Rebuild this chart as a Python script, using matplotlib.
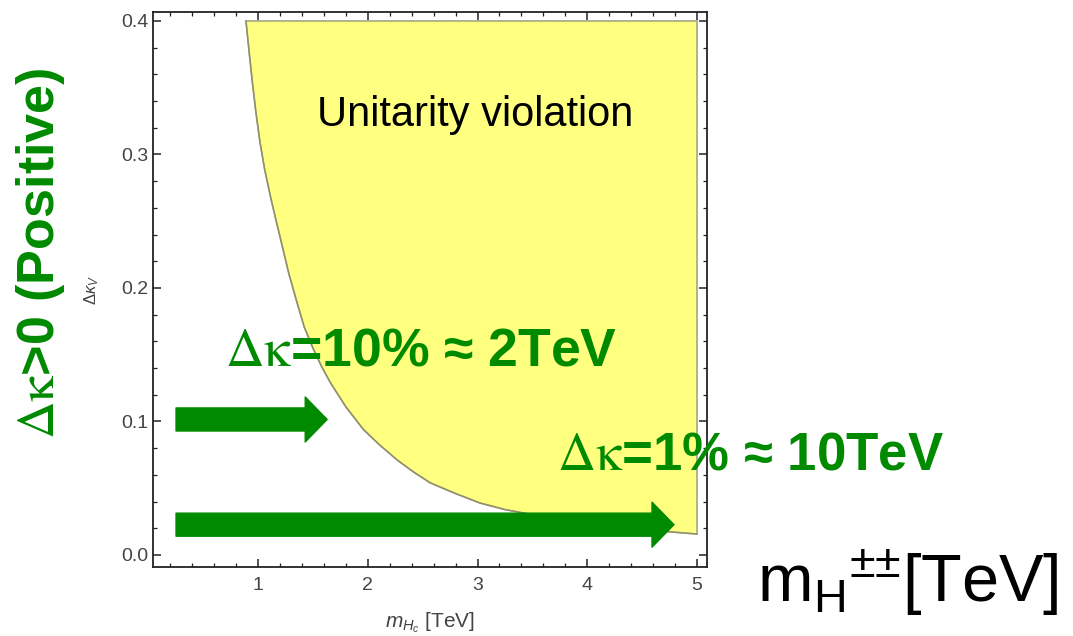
import matplotlib
matplotlib.use("Agg")
import matplotlib.pyplot as plt
from matplotlib.patches import ArrowStyle

plt.rcParams['mathtext.fontset'] = 'custom'
plt.rcParams['mathtext.rm'] = 'Liberation Sans'
plt.rcParams['mathtext.it'] = 'Liberation Sans:italic'
plt.rcParams['mathtext.bf'] = 'Liberation Sans:bold'

# ---- data ----
boundary_m = [0.89, 0.915, 0.943, 0.98, 1.018, 1.06, 1.109, 1.16, 1.216, 1.28,
              1.352, 1.42, 1.50, 1.58, 1.66, 1.80, 1.96, 2.10, 2.27, 2.42,
              2.57, 2.80, 3.02, 3.25, 3.45, 3.75, 4.0, 4.5, 5.0]
boundary_dk = [0.400, 0.380, 0.358, 0.332, 0.309, 0.289, 0.270, 0.252, 0.233, 0.211,
               0.190, 0.171, 0.155, 0.141, 0.129, 0.111, 0.094, 0.083, 0.071, 0.062,
               0.054, 0.046, 0.039, 0.034, 0.031, 0.027, 0.024, 0.019, 0.0157]
region_top = 0.4
region_right = 5.0

arrow_start_m = [0.253, 0.253]
arrow_end_m = [1.63, 4.79]
arrow_dk = [0.1015, 0.0227]

xticks = [1, 2, 3, 4, 5]
yticks = [0.0, 0.1, 0.2, 0.3, 0.4]

GREEN = '#008a00'
W, H = 1073, 636

fig = plt.figure(figsize=(W / 100, H / 100), dpi=100)
ax = fig.add_axes([153 / W, 1 - 567 / H, (707 - 153) / W, (567 - 12) / H])

# unitarity violation region
poly_x = list(boundary_m) + [region_right]
poly_y = list(boundary_dk) + [region_top]
ax.fill(poly_x, poly_y, facecolor='#ffff80', edgecolor='#a5a585', lw=1.2, zorder=1)
ax.plot(boundary_m, boundary_dk, color='#8f8f6a', lw=1.0, zorder=2)

ax.set_xlim(0.043, 5.091)
ax.set_ylim(-0.009, 0.4067)
ax.set_xticks(xticks)
ax.set_xticklabels([str(v) for v in xticks])
ax.set_yticks(yticks)
ax.set_yticklabels([f"{v:.1f}" for v in yticks])
ax.set_xticks([v / 5 for v in range(1, 26)], minor=True)
ax.set_yticks([v / 50 for v in range(0, 21)], minor=True)
ax.tick_params(which='both', direction='in', top=True, right=True, color='#222222')
ax.tick_params(which='major', length=6, width=1.1)
ax.tick_params(which='minor', length=3, width=0.9)
ax.tick_params(axis='x', which='major', pad=7, labelsize=14, labelcolor='#444444')
ax.tick_params(axis='y', which='major', pad=3.5, labelsize=14, labelcolor='#444444')
for lab in ax.get_xticklabels() + ax.get_yticklabels():
    lab.set_family('Liberation Sans')
for sp in ax.spines.values():
    sp.set_color('#222222')
    sp.set_linewidth(1.3)

ax.set_xlabel(r'$m_{H_c}$ [TeV]', fontsize=15, color='#444444', family='Liberation Sans',
              labelpad=12)
ax.set_ylabel(r'$\Delta\kappa_V$', fontsize=12, color='#444444', family='Liberation Sans',
              labelpad=14)

# arrows
for xs, xe, yv in zip(arrow_start_m, arrow_end_m, arrow_dk):
    ax.annotate('', xy=(xe, yv), xytext=(xs, yv),
                arrowprops=dict(arrowstyle=ArrowStyle.Simple(head_length=15.8, head_width=32.4,
                                                             tail_width=16.6),
                                color=GREEN, shrinkA=0, shrinkB=0, mutation_scale=1),
                zorder=4)

# texts
fig.text(317 / W, 1 - 126 / H, 'Unitarity violation', fontsize=30, family='Liberation Sans',
         color='black', va='baseline', ha='left', zorder=5)

fig.text(225 / W, 1 - 365 / H, r'$\mathrm{\Delta\kappa}$=10% ≈ 2TeV', fontsize=38.5,
         fontweight='bold', family='Liberation Sans', math_fontfamily='stix', color=GREEN,
         va='baseline', ha='left', zorder=5)
fig.text(557 / W, 1 - 470 / H, r'$\mathrm{\Delta\kappa}$=1% ≈ 10TeV', fontsize=38,
         fontweight='bold', family='Liberation Sans', math_fontfamily='stix', color=GREEN,
         va='baseline', ha='left', zorder=5)
fig.text(41 / W, 1 - 253 / H, r'$\mathrm{\Delta\kappa}$>0 (Positive)', fontsize=37.5,
         fontweight='bold', family='Liberation Sans', math_fontfamily='stix', color=GREEN,
         rotation=90, va='center', ha='center', zorder=5)

fig.text(757 / W, 1 - 602 / H, r'm$_{\mathrm{H}}{}^{{\pm}{\pm}}$[TeV]', fontsize=48,
         family='Liberation Sans', color='black', va='baseline', ha='left')

fig.savefig('out.png', dpi=100)
